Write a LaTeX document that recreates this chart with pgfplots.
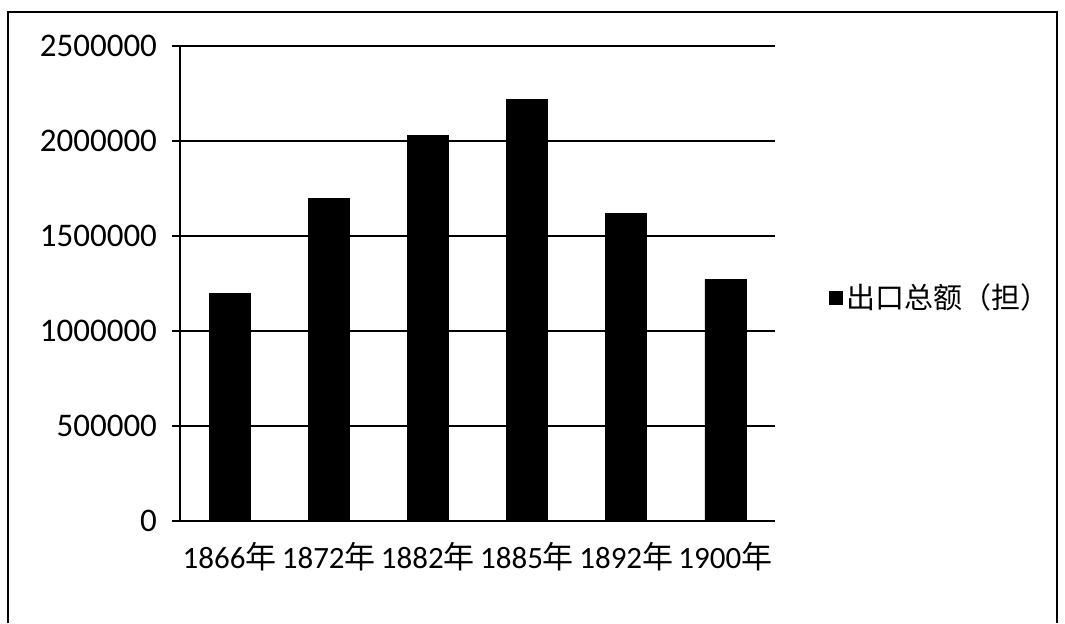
\documentclass[border=0pt]{standalone}
\usepackage{fontspec}
\setmainfont{Carlito}
\newfontfamily\cjk{Noto Sans CJK SC}
\usepackage{pgfplots}
\pgfplotsset{compat=1.18}
\begin{document}
\begin{tikzpicture}
\useasboundingbox (-90pt,-51pt) rectangle (442.5pt,260.5pt);
\draw[line width=0.8pt] (-86pt,-51pt) -- (-86pt,254.5pt) -- (438.5pt,254.5pt) -- (438.5pt,-51pt);
\begin{axis}[
  at={(0pt,0pt)}, anchor=south west,
  scale only axis,
  width=297.5pt, height=237.5pt,
  xmin=-0.5, xmax=5.5,
  ymin=0, ymax=2500000,
  ytick={0,500000,1000000,1500000,2000000,2500000},
  yticklabels={0,500000,1000000,1500000,2000000,2500000},
  scaled y ticks=false,
  yticklabel style={font=\fontsize{16.5}{18}\selectfont, xshift=-4pt},
  xtick={0,1,2,3,4,5},
  xticklabels={1866{\cjk 年},1872{\cjk 年},1882{\cjk 年},1885{\cjk 年},1892{\cjk 年},1900{\cjk 年}},
  xticklabel style={font=\fontsize{15.5}{17}\selectfont, yshift=-3pt},
  extra x ticks={-0.5,0.5,1.5,2.5,3.5,4.5,5.5},
  extra x tick labels={},
  extra x tick style={major tick length=5pt, tick style={black, line width=0.8pt}, tick align=outside, grid=none},
  major x tick style={draw=none},
  axis x line*=bottom,
  axis y line*=left,
  axis line style={black, line width=0.8pt, -},
  ymajorgrids,
  grid style={black, line width=0.8pt},
  y tick style={black, line width=0.8pt},
  major tick length=4pt,
  tick align=outside,
  ybar, bar width=20.5pt,
  legend style={at={(1.08,0.47)}, anchor=west, draw=none, fill=none,
    font=\cjk\fontsize{14.5}{16}\selectfont},
  legend image code/.code={\fill[black] (0cm,-0.11cm) rectangle (0.22cm,0.11cm);},
]
\addplot[fill=black, draw=black] coordinates {(0,1200000) (1,1700000) (2,2030000) (3,2220000) (4,1620000) (5,1270000)};
\addlegendentry{出口总额（担）}
\end{axis}
\end{tikzpicture}
\end{document}
